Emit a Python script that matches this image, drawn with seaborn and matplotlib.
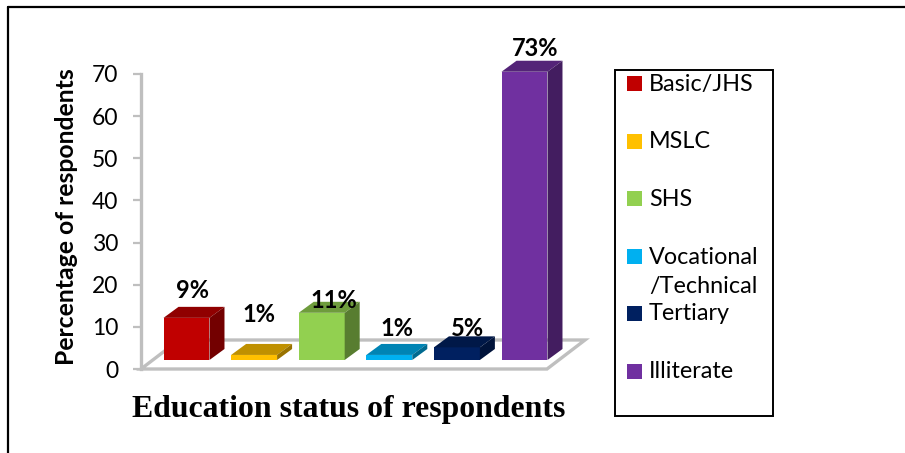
import matplotlib
matplotlib.use("Agg")
import matplotlib.pyplot as plt
import seaborn as sns
from matplotlib.colors import to_rgb
from matplotlib.lines import Line2D
from matplotlib.patches import Polygon, Rectangle

# data
categories = ["Basic/JHS", "MSLC", "SHS", "Vocational\n/Technical", "Tertiary", "Illiterate"]
percent_labels = ["9%", "1%", "11%", "1%", "5%", "73%"]
bar_heights = [10.0, 1.2, 11.2, 1.2, 3.0, 68.4]
colors = ["#C00000", "#FFC000", "#92D050", "#00B0F0", "#002060", "#7030A0"]
y_ticks = [0, 10, 20, 30, 40, 50, 60, 70]

W, H = 905, 453
sns.set_theme(style="white")
plt.rcParams["font.family"] = ["Lato", "DejaVu Sans"]

fig = plt.figure(figsize=(W / 100, H / 100), dpi=100)

# helper: pixel box (top-left origin) to figure fractions
def fx(px):
    return px / W

def fy(py):
    return 1 - py / H

# axes: x=141 is left wall, y=369 is value 0, y=74 is value 70
ax_left, ax_right, ax_top, ax_bottom = 141, 600, 30, 369
ax = fig.add_axes([fx(ax_left), fy(ax_bottom), (ax_right - ax_left) / W, (ax_bottom - ax_top) / H])
px_per_unit = (369 - 74) / 70
px_per_cat = 67.6

sns.barplot(x=categories, y=bar_heights, hue=categories, palette=colors, dodge=False,
            legend=False, width=0.68, saturation=1, ax=ax, zorder=3)
bars = list(ax.patches)
ax.set_xlim((ax_left - 186.5) / px_per_cat, (ax_right - 186.5) / px_per_cat)
ax.set_ylim(0, (ax_bottom - ax_top) / px_per_unit)

# floor of the 3d box
gray = "#BFBFBF"
raise_y = 9 / px_per_unit
depth_x, depth_y = 15 / px_per_cat, 11 / px_per_unit
floor_right = (547 - 186.5) / px_per_cat
floor_dx, floor_dy = 38 / px_per_cat, 29 / px_per_unit
x0 = ax.get_xlim()[0]
ax.add_patch(Polygon([(x0, 0), (floor_right, 0), (floor_right + floor_dx, floor_dy), (x0 + floor_dx, floor_dy)],
                     closed=True, facecolor="white", edgecolor=gray, linewidth=2.4, zorder=1, clip_on=False))

# lift the bars off the floor and give them a top and a side face
for bar, c in zip(bars, colors):
    bar.set_y(raise_y)
    bar.set_linewidth(0)
    left, right = bar.get_x(), bar.get_x() + bar.get_width()
    low, high = raise_y, raise_y + bar.get_height()
    r, g, b = to_rgb(c)
    top_c = (r * 0.75, g * 0.75, b * 0.75)
    side_c = (r * 0.6, g * 0.6, b * 0.6)
    ax.add_patch(Polygon([(left, high), (right, high), (right + depth_x, high + depth_y), (left + depth_x, high + depth_y)],
                         closed=True, facecolor=top_c, linewidth=0, zorder=3))
    ax.add_patch(Polygon([(right, low), (right + depth_x, low + depth_y), (right + depth_x, high + depth_y), (right, high)],
                         closed=True, facecolor=side_c, linewidth=0, zorder=3))

for name in ["top", "right", "bottom"]:
    ax.spines[name].set_visible(False)
ax.spines["left"].set_color(gray)
ax.spines["left"].set_linewidth(2.4)
ax.spines["left"].set_bounds(0, 70)
ax.patch.set_alpha(0)
ax.set_xticks([])
ax.set_yticks(y_ticks)
ax.tick_params(axis="y", left=True, length=6, width=1.6, color=gray, labelsize=16.5, labelcolor="black", pad=10.5)
ax.set_xlabel("")
ax.set_ylabel("")

# percent labels
label_px = [(192, 291), (259, 314), (334, 301), (397, 329), (467, 328), (535, 48)]
for (px, py), txt in zip(label_px, percent_labels):
    fig.text(fx(px), fy(py), txt, ha="center", va="center", fontsize=17, fontweight="bold", color="black",
             family=["Lato", "DejaVu Sans"], zorder=10)

fig.text(fx(67), fy(217), "Percentage of respondents", rotation=90, ha="center", va="center",
         fontsize=17.8, fontweight="bold", color="black")
fig.text(fx(349), fy(410), "Education status of respondents", ha="center", va="center",
         fontsize=22.9, fontweight="bold", color="black", family=["Liberation Serif"])

# outer frame: only left and top are visible
fig.add_artist(Line2D([fx(8), fx(8)], [0, fy(7)], color="black", linewidth=1.6))
fig.add_artist(Line2D([fx(8), 1], [fy(7), fy(7)], color="black", linewidth=1.6))

# legend box
fig.add_artist(Rectangle((fx(615), fy(416)), (773 - 615) / W, (416 - 70) / H, transform=fig.transFigure,
                         facecolor="white", edgecolor="black", linewidth=1.4, zorder=5))
swatch_y = [83, 141, 198, 256, 313, 371]
text_y = [84, 142, 199, 272, 314, 372]
for c, label, sy, ty in zip(colors, categories, swatch_y, text_y):
    fig.add_artist(Rectangle((fx(627), fy(sy + 7.5)), 15 / W, 15 / H, transform=fig.transFigure,
                             facecolor=c, edgecolor="none", zorder=6))
    fig.text(fx(649), fy(ty), label, ha="left", va="center", fontsize=16.8, color="black", zorder=6, linespacing=1.5)

fig.savefig("out.png", dpi=100)
